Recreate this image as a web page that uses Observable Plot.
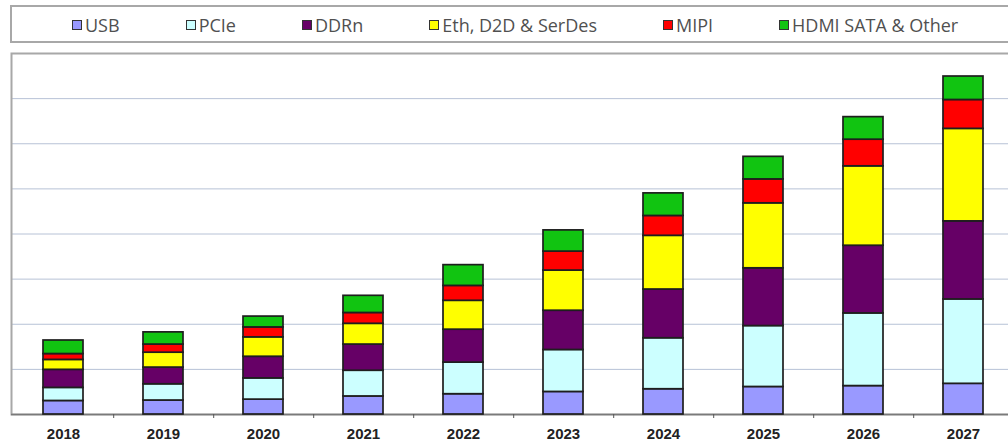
<!DOCTYPE html>
<html>
<head>
<meta charset="utf-8">
<script src="https://cdn.jsdelivr.net/npm/d3@7"></script>
<script src="https://cdn.jsdelivr.net/npm/@observablehq/plot@0.6"></script>
<style>
  html, body { margin: 0; padding: 0; background: #fff; overflow: hidden; }
  #legend {
    margin: 5px 0 0 10px;
    width: 1100px;
    border: 2px solid #a8a8a8;
    display: flex;
    align-items: center;
    padding-left: 60px;
    padding-top: 2px;
    box-sizing: border-box;
    height: 38px;
    font-family: "Open Sans", sans-serif;
    font-size: 18px;
    color: #505050;
  }
  .item { display: flex; align-items: center; margin-right: 66px; }
  .sw { width: 8px; height: 8px; border: 1.5px solid #333; margin-right: 3px; }
  #chart svg { display: block; margin-top: 5px; }
</style>
</head>
<body>
<div id="legend"></div>
<div id="chart"></div>
<script>
// Interface IP revenue by protocol, $M
const years = ["2018", "2019", "2020", "2021", "2022", "2023", "2024", "2025", "2026", "2027"];
const series = ["USB", "PCIe", "DDRn", "Eth, D2D & SerDes", "MIPI", "HDMI SATA & Other"];
const colors = ["#9999ff", "#ccffff", "#660066", "#ffff00", "#ff0000", "#11c411"];

const usb   = [150, 155, 165, 200, 225, 250, 280, 305, 315, 340];
const pcie  = [145, 180, 235, 285, 350, 465, 565, 675, 805, 935];
const ddrn  = [200, 185, 240, 290, 365, 435, 540, 640, 750, 865];
const eth   = [110, 165, 215, 230, 320, 445, 595, 720, 880, 1025];
const mipi  = [65, 90, 110, 120, 165, 210, 220, 265, 295, 320];
const other = [150, 135, 120, 190, 230, 235, 250, 250, 250, 260];

const yTicks = [0, 500, 1000, 1500, 2000, 2500, 3000, 3500, 4000];

const columns = [usb, pcie, ddrn, eth, mipi, other];
const rows = [];
series.forEach((s, i) => {
  years.forEach((y, j) => rows.push({year: y, series: s, value: columns[i][j]}));
});

// legend
const legend = document.getElementById("legend");
series.forEach((s, i) => {
  const item = document.createElement("div");
  item.className = "item";
  const sw = document.createElement("div");
  sw.className = "sw";
  sw.style.background = colors[i];
  const label = document.createElement("span");
  label.textContent = s;
  item.append(sw, label);
  legend.append(item);
});

const chart = Plot.plot({
  width: 1008,
  height: 394,
  marginLeft: 11,
  marginRight: -7,
  marginTop: 5,
  marginBottom: 28,
  x: {type: "band", domain: years, paddingInner: 0.6, paddingOuter: 0.3, label: null},
  y: {domain: [0, 4000], label: null, axis: null},
  color: {domain: series, range: colors},
  marks: [
    Plot.gridY(yTicks, {stroke: "#b7c2d6", strokeOpacity: 1, strokeWidth: 1}),
    Plot.frame({stroke: "#a8a8a8", strokeWidth: 2}),
    Plot.ruleY([0], {stroke: "#7a7a7a", strokeWidth: 1.5}),
    Plot.barY(rows, {
      x: "year", y: "value", fill: "series",
      stroke: "#1e1e1e", strokeWidth: 1.7
    }),
    Plot.axisX({
      tickSize: 0, tickPadding: 14, label: null,
      fontSize: 15, fontWeight: "bold", fontFamily: "Liberation Sans, Arial, sans-serif",
      fill: "#222"
    }),
    Plot.axisX({
      tickSize: 4, tickFormat: () => "", label: null, dx: 50.2, stroke: "#555"
    })
  ]
});
document.getElementById("chart").append(chart);
</script>
</body>
</html>
